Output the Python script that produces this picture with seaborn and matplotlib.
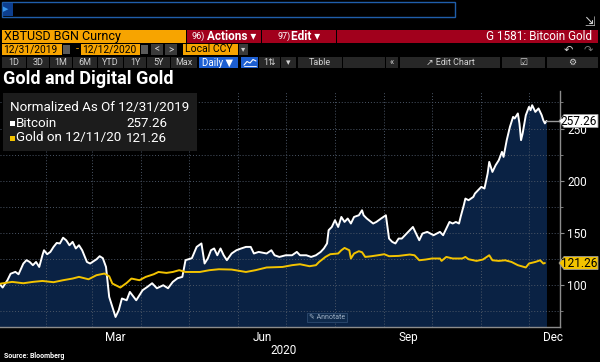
import matplotlib
matplotlib.use("Agg")
import matplotlib.pyplot as plt
import matplotlib.dates as mdates
from matplotlib.patches import Rectangle, Polygon
from matplotlib.lines import Line2D
from matplotlib.ticker import MultipleLocator, FixedLocator, FuncFormatter, NullFormatter
import pandas as pd
import seaborn as sns

# ---- data (normalized to 100 on 12/31/2019) ----
btc_dates = [
    "2019-12-31", "2020-01-03", "2020-01-05", "2020-01-08", "2020-01-10", "2020-01-13",
    "2020-01-15", "2020-01-18", "2020-01-20", "2020-01-22", "2020-01-24", "2020-01-26",
    "2020-01-28", "2020-01-30", "2020-01-31", "2020-02-02", "2020-02-04", "2020-02-06",
    "2020-02-08", "2020-02-10", "2020-02-12", "2020-02-14", "2020-02-16", "2020-02-18",
    "2020-02-20", "2020-02-22", "2020-02-24", "2020-02-27", "2020-02-29", "2020-03-04",
    "2020-03-06", "2020-03-08", "2020-03-10", "2020-03-12", "2020-03-14", "2020-03-16",
    "2020-03-18", "2020-03-20", "2020-03-23", "2020-03-25", "2020-03-29", "2020-04-02",
    "2020-04-05", "2020-04-08", "2020-04-11", "2020-04-15", "2020-04-18", "2020-04-21",
    "2020-04-24", "2020-04-27", "2020-04-29", "2020-05-03", "2020-05-06", "2020-05-09",
    "2020-05-11", "2020-05-13", "2020-05-15", "2020-05-17", "2020-05-19", "2020-05-21",
    "2020-05-23", "2020-05-25", "2020-05-28", "2020-05-31", "2020-06-03", "2020-06-06",
    "2020-06-09", "2020-06-11", "2020-06-14", "2020-06-19", "2020-06-22", "2020-06-24",
    "2020-06-27", "2020-07-01", "2020-07-05", "2020-07-08", "2020-07-10", "2020-07-14",
    "2020-07-17", "2020-07-20", "2020-07-23", "2020-07-25", "2020-07-27", "2020-07-28",
    "2020-07-30", "2020-08-01", "2020-08-03", "2020-08-05", "2020-08-07", "2020-08-09",
    "2020-08-11", "2020-08-13", "2020-08-16", "2020-08-18", "2020-08-19", "2020-08-21",
    "2020-08-25", "2020-08-27", "2020-08-30", "2020-09-02", "2020-09-04", "2020-09-06",
    "2020-09-08", "2020-09-10", "2020-09-12", "2020-09-15", "2020-09-17", "2020-09-19",
    "2020-09-21", "2020-09-23", "2020-09-25", "2020-09-28", "2020-09-30", "2020-10-02",
    "2020-10-06", "2020-10-08", "2020-10-10", "2020-10-12", "2020-10-14", "2020-10-16",
    "2020-10-18", "2020-10-19", "2020-10-21", "2020-10-22", "2020-10-24", "2020-10-27",
    "2020-10-28", "2020-10-30", "2020-11-01", "2020-11-03", "2020-11-05", "2020-11-06",
    "2020-11-08", "2020-11-10", "2020-11-12", "2020-11-14", "2020-11-15", "2020-11-17",
    "2020-11-19", "2020-11-21", "2020-11-22", "2020-11-24", "2020-11-25", "2020-11-26",
    "2020-11-27", "2020-11-29", "2020-12-01", "2020-12-02", "2020-12-03", "2020-12-05",
    "2020-12-07", "2020-12-09", "2020-12-10", "2020-12-11", "2020-12-12",
]
btc_values = [
    100, 101.5, 97.8, 104.8, 111, 112.8,
    110.5, 120.7, 124, 122.3, 119.2, 122.3,
    117.5, 128.7, 133.5, 129.7, 131.9, 136.7,
    140.5, 140, 145.5, 143, 138.3, 141.5,
    135.2, 138.3, 133.5, 122.3, 120.8, 124.8,
    127.8, 125.9, 117.5, 88.8, 79.2, 69.6,
    76, 87.3, 85.6, 93.6, 85.6, 95.2,
    98.4, 101.9, 97.1, 100, 97.1, 103.2,
    106.7, 108, 124, 125.9, 136.7, 140,
    120.8, 125.6, 133.5, 135.2, 128.7, 135.2,
    128.7, 124, 130.4, 133.5, 135.2, 136.7,
    136.7, 130.4, 131.9, 130.4, 133.5, 128.7,
    127.1, 128.7, 128.7, 131.9, 128.7, 128.7,
    127.1, 128.7, 131.9, 135.2, 140, 152.7,
    155.8, 162.3, 155.8, 165.4, 160.6, 163.9,
    159.1, 165.4, 167, 171.8, 167, 163.9,
    159.1, 160.6, 163.9, 167, 144.7, 141.5,
    140, 144.7, 144.7, 149.5, 152.7, 155.8,
    149.5, 143.1, 149.5, 151.1, 149.5, 147.9,
    151.1, 147.9, 154.3, 160.6, 159.1, 160.6,
    159.1, 165.4, 176.6, 183, 181.4, 184.6,
    187.8, 191, 194.2, 192.6, 207, 218.1,
    208.5, 214.9, 219.7, 227.7, 222.9, 238.9,
    251.6, 261.2, 259.7, 264.5, 254.9, 238.9,
    245.3, 262.8, 270.8, 267.6, 272.4, 266,
    269.3, 262.8, 258, 255, 257.26,
]

gold_dates = [
    "2019-12-31", "2020-01-04", "2020-01-11", "2020-01-18", "2020-01-24", "2020-01-30",
    "2020-02-06", "2020-02-12", "2020-02-18", "2020-02-22", "2020-02-28", "2020-03-04",
    "2020-03-09", "2020-03-12", "2020-03-14", "2020-03-19", "2020-03-23", "2020-03-26",
    "2020-03-31", "2020-04-04", "2020-04-09", "2020-04-12", "2020-04-17", "2020-04-21",
    "2020-04-25", "2020-04-29", "2020-05-08", "2020-05-14", "2020-05-20", "2020-05-28",
    "2020-06-06", "2020-06-12", "2020-06-19", "2020-06-29", "2020-07-05", "2020-07-10",
    "2020-07-16", "2020-07-20", "2020-07-22", "2020-07-26", "2020-07-29", "2020-08-03",
    "2020-08-05", "2020-08-07", "2020-08-10", "2020-08-11", "2020-08-13", "2020-08-16",
    "2020-08-18", "2020-08-20", "2020-08-24", "2020-08-28", "2020-09-01", "2020-09-04",
    "2020-09-10", "2020-09-17", "2020-09-20", "2020-09-23", "2020-09-27", "2020-10-01",
    "2020-10-06", "2020-10-07", "2020-10-10", "2020-10-14", "2020-10-20", "2020-10-22",
    "2020-10-24", "2020-10-29", "2020-11-02", "2020-11-06", "2020-11-08", "2020-11-12",
    "2020-11-16", "2020-11-20", "2020-11-24", "2020-11-29", "2020-12-01", "2020-12-05",
    "2020-12-08", "2020-12-10", "2020-12-11",
]
gold_values = [
    100, 101.6, 103.2, 101.9, 103.2, 104.1,
    102.9, 104.8, 106.4, 108, 105.7, 109.6,
    111.2, 108.6, 101.6, 97.8, 102.2, 106.4,
    104.8, 108, 110.5, 112.7, 111.8, 112.7,
    114.4, 112.7, 112.7, 114.4, 115.3, 115,
    112.7, 114.4, 117, 117.5, 119.2, 120.1,
    118.2, 119.2, 122.3, 127.1, 129.7, 130.4,
    133.5, 135.7, 133.5, 125.6, 130.4, 132.6,
    131.6, 127.1, 127.8, 128.7, 129.7, 127.8,
    128.1, 129.4, 128.7, 123.9, 124.6, 125.6,
    125.6, 123.3, 127.1, 125.6, 125.6, 127.1,
    124.9, 123.3, 124.6, 128.7, 123.9, 123.3,
    123.9, 122.3, 119.2, 117, 120.8, 122.3,
    123.9, 120.8, 121.26,
]

y_ticks = [100, 150, 200, 250]
month_labels = {3: "Mar", 6: "Jun", 9: "Sep", 12: "Dec"}

W, H = 600, 362
ORANGE = "#f7a400"
RED = "#a1001c"
NAVY = "#0a2244"
GRID = "#4b5666"
YELLOW = "#f3c300"
BTN = "#272727"
BLUE = "#1d5fd2"
LIGHT = "#d2d2d2"

sns.set_style("dark")
plt.rcParams["font.family"] = ["Roboto", "DejaVu Sans"]

fig = plt.figure(figsize=(W / 100, H / 100), dpi=100, facecolor="black")


def box(x0, y0, x1, y1, fc, ec="none", lw=0, z=1):
    fig.patches.append(Rectangle((x0 / W, 1 - y1 / H), (x1 - x0) / W, (y1 - y0) / H,
                                 transform=fig.transFigure, fc=fc, ec=ec, lw=lw, zorder=z))


def txt(x, y, s, **kw):
    kw.setdefault("va", "center")
    kw.setdefault("color", "white")
    fig.text(x / W, 1 - y / H, s, **kw)


# ---- chart ----
ax = fig.add_axes([0, 1 - 327 / H, 560 / W, (327 - 91) / H])
ax.set_facecolor("black")

btc = pd.DataFrame({"date": pd.to_datetime(btc_dates), "value": btc_values})
gold = pd.DataFrame({"date": pd.to_datetime(gold_dates), "value": gold_values})

ax.fill_between(btc["date"], btc["value"], 0, color=NAVY, lw=0, zorder=1)
sns.lineplot(data=btc, x="date", y="value", ax=ax, color="white", lw=1.4, zorder=3)
sns.lineplot(data=gold, x="date", y="value", ax=ax, color=YELLOW, lw=1.4, zorder=3)

x0, x1 = pd.Timestamp("2020-01-03 08:00"), pd.Timestamp("2020-12-20 12:00")
ax.set_xlim(x0, x1)
ax.set_ylim(60, 286)
ax.set_xlabel("")
ax.set_ylabel("")

ax.yaxis.tick_right()
ax.yaxis.set_major_locator(FixedLocator(y_ticks))
ax.yaxis.set_minor_locator(MultipleLocator(25))
ax.xaxis.set_major_locator(mdates.MonthLocator())
ax.xaxis.set_major_formatter(NullFormatter())
ax.xaxis.set_minor_locator(mdates.MonthLocator(bymonthday=16))
ax.xaxis.set_minor_formatter(FuncFormatter(
    lambda v, p: month_labels.get(mdates.num2date(v).month, "")))

ax.set_axisbelow("line")
ax.grid(which="both", axis="y", color=GRID, ls=(0, (1, 2)), lw=0.7)
ax.grid(which="major", axis="x", color=GRID, ls=(0, (1, 2)), lw=0.7)
ax.grid(which="minor", axis="x", visible=False)

ax.tick_params(axis="x", which="major", length=3, color="#8c8c8c")
ax.tick_params(axis="x", which="minor", length=0, labelcolor="white", labelsize=8.5, pad=3)
ax.tick_params(axis="y", which="major", length=3, color="#8c8c8c", labelcolor="white",
               labelsize=8.5, pad=2)
ax.tick_params(axis="y", which="minor", length=2, color="#8c8c8c")

for s in ["left", "top"]:
    ax.spines[s].set_visible(False)
for s in ["bottom", "right"]:
    ax.spines[s].set_color("#8c8c8c")
    ax.spines[s].set_linewidth(1)

# last value tags on the right axis
last_btc = btc["date"].iloc[-1]
ax.plot([last_btc, x1], [btc_values[-1]] * 2, color="#9a9a9a", lw=1, clip_on=False, zorder=3)
fig.canvas.draw()


def tag(date, value, fc, label):
    _, yd = ax.transData.transform((mdates.date2num(date), value))
    yc = H - yd * H / fig.bbox.height
    pts = [(559, yc), (564, yc - 6.5), (598, yc - 6.5), (598, yc + 6.5), (564, yc + 6.5)]
    fig.patches.append(Polygon([(px / W, 1 - py / H) for px, py in pts], closed=True,
                               transform=fig.transFigure, fc=fc, ec="#9a9a9a", lw=0.6, zorder=2))
    txt(597, yc, label, ha="right", color="black", fontsize=8.5, zorder=3)


tag(last_btc, btc_values[-1], "white", f"{btc_values[-1]:.2f}")
tag(gold["date"].iloc[-1], gold_values[-1], YELLOW, f"{gold_values[-1]:.2f}")

txt(284, 351, "2020", ha="center", fontsize=8.5)
txt(4, 356, "Source: Bloomberg", fontsize=5, fontweight="bold")

# annotate button
box(307, 313, 347, 322, "#0f2a4c", ec="#2d4a70", lw=0.6, z=2)
txt(327, 317.5, "\u270e Annotate", ha="center", fontsize=5, color="#9fb0c4", zorder=3)

# legend panel
box(3, 93, 197, 151, "#1c1c1c", z=2)
txt(10, 108, "Normalized As Of 12/31/2019", fontsize=9.6, zorder=3)
box(10, 121, 14.5, 125.5, "white", z=3)
txt(16, 123, "Bitcoin", fontsize=9.6, zorder=3)
txt(167, 123, f"{btc_values[-1]:.2f}", ha="right", fontsize=9.6, zorder=3)
box(10, 136, 14.5, 140.5, YELLOW, z=3)
txt(16, 138, "Gold on 12/11/20", fontsize=9.6, zorder=3)
txt(167, 138, f"{gold_values[-1]:.2f}", ha="right", fontsize=9.6, zorder=3)

txt(3, 79, "Gold and Digital Gold", fontsize=13, fontweight="bold")

# ---- terminal header ----
box(2, 2, 455, 17, "black", ec="#1f5eaa", lw=1)
box(3, 3, 13, 16, "#0d3f8f")
txt(3, 9.5, "\u25b6", fontsize=5, color="#3a9af0")
txt(590, 22, "\u21f2", ha="center", fontsize=9, color=LIGHT)

# row 1
box(2, 30, 186, 43, ORANGE)
txt(4, 36.5, "XBTUSD BGN Curncy", fontsize=9, color="black")
box(187, 30, 261, 43, RED)
txt(192, 36.5, "96)", fontsize=6.5)
txt(207, 36.5, "Actions \u25be", fontsize=8.5, fontweight="bold")
box(262, 30, 336, 43, RED)
txt(277, 36.5, "97)", fontsize=6.5)
txt(291, 36.5, "Edit \u25be", fontsize=8.5, fontweight="bold")
box(337, 30, 598, 43, RED)
txt(592, 36.5, "G 1581: Bitcoin Gold", ha="right", fontsize=8.5)

# row 2
box(2, 44, 62, 55, ORANGE)
txt(3.5, 49.5, "12/31/2019", fontsize=7.3, color="black")
box(63, 45, 70, 54, "#5a5a5a")
txt(76, 49.5, "-", fontsize=8, color=ORANGE)
box(81, 44, 140, 55, ORANGE)
txt(82.5, 49.5, "12/12/2020", fontsize=7.3, color="black")
box(141, 45, 148, 54, "#5a5a5a")
box(151, 44, 163, 55, "#3a3a3a")
txt(157, 49.5, "<", ha="center", fontsize=7, color=LIGHT)
box(165, 44, 177, 55, "#3a3a3a")
txt(171, 49.5, ">", ha="center", fontsize=7, color=LIGHT)
box(183, 44, 238, 55, ORANGE)
txt(185, 49.5, "Local CCY", fontsize=7.5, color="black")
box(239, 44, 248, 55, "#3a3a3a")
txt(243.5, 49.5, "\u25be", ha="center", fontsize=6, color=LIGHT)
txt(568, 49.5, "\u21b6", ha="center", fontsize=8, color=LIGHT)
txt(588, 49.5, "\u21b7", ha="center", fontsize=8, color="#777777")

# row 3
buttons = [(2, 26, "1D"), (27, 49, "3D"), (50, 72, "1M"), (73, 97, "6M"), (98, 123, "YTD"),
           (124, 146, "1Y"), (147, 170, "5Y"), (171, 197, "Max")]
for a, b, s in buttons:
    box(a, 57, b, 68, BTN)
    txt((a + b) / 2, 62.5, s, ha="center", fontsize=6.5, color=LIGHT)
box(199, 57, 238, 68, BLUE)
txt(218, 62.5, "Daily \u25bc", ha="center", fontsize=7, color="white")
box(241, 57, 258, 68, BLUE)
# small line-chart icon
icon_x = [244, 247, 250, 253, 256]
icon_y = [65, 61.5, 63, 59.5, 61]
fig.lines.append(Line2D([v / W for v in icon_x], [1 - v / H for v in icon_y],
                        transform=fig.transFigure, color="white", lw=0.8))
fig.lines.append(Line2D([244 / W, 256 / W], [1 - 66.3 / H] * 2,
                        transform=fig.transFigure, color="white", lw=0.6))
for a, b, s in [(259, 280, "1\u21c5"), (281, 296, "\u25be"), (298, 342, "Table"), (343, 385, ""),
                (386, 398, "\u00ab"), (400, 500, "\u2197 Edit Chart"), (502, 545, "\u2611"),
                (547, 598, "\u2699")]:
    box(a, 57, b, 68, BTN)
    txt((a + b) / 2, 62.5, s, ha="center", fontsize=6.5, color=LIGHT)

fig.savefig("out.png", dpi=100, facecolor="black")
